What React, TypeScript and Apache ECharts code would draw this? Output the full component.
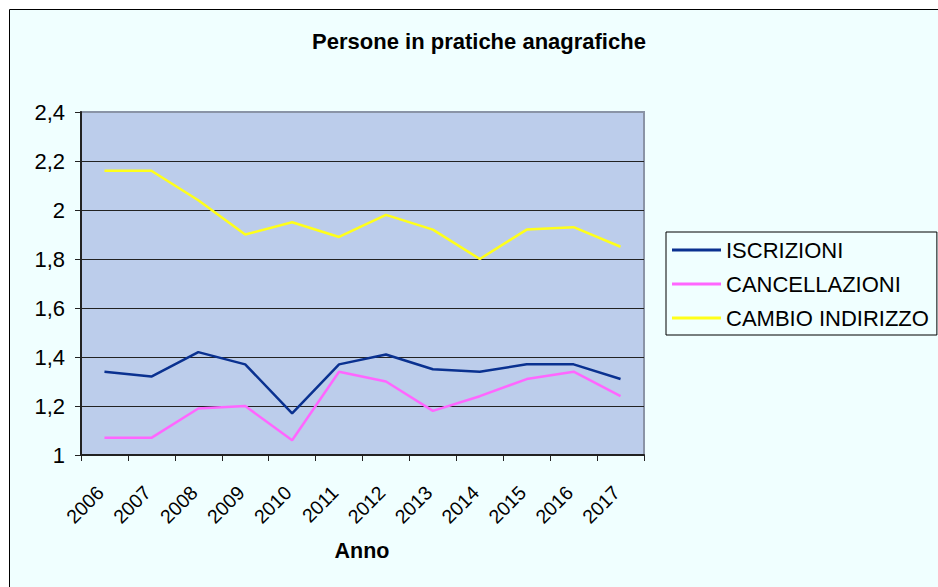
import React, { useEffect, useRef } from 'react';
import * as echarts from 'echarts';

const years = ['2006', '2007', '2008', '2009', '2010', '2011', '2012', '2013', '2014', '2015', '2016', '2017'];
const iscrizioni = [1.34, 1.32, 1.42, 1.37, 1.17, 1.37, 1.41, 1.35, 1.34, 1.37, 1.37, 1.31];
const cancellazioni = [1.07, 1.07, 1.19, 1.2, 1.06, 1.34, 1.3, 1.18, 1.24, 1.31, 1.34, 1.24];
const cambioIndirizzo = [2.16, 2.16, 2.04, 1.9, 1.95, 1.89, 1.98, 1.92, 1.8, 1.92, 1.93, 1.85];
const seriesNames = ['ISCRIZIONI', 'CANCELLAZIONI', 'CAMBIO INDIRIZZO'];
const seriesColors = ['#0A3190', '#FF66FF', '#FFFF1A'];
const yMin = 1;
const yMax = 2.4;
const yStep = 0.2;

const FONT = '"Liberation Sans", Arial, Helvetica, sans-serif';

export default function App() {
  const ref = useRef<HTMLDivElement>(null);
  useEffect(() => {
    document.body.style.margin = '0';
    document.body.style.overflow = 'hidden';
    const chart = echarts.init(ref.current!, null, { renderer: 'svg' });
    const values = [iscrizioni, cancellazioni, cambioIndirizzo];
    chart.setOption({
      animation: false,
      backgroundColor: '#FFFFFF',
      textStyle: { fontFamily: FONT },
      graphic: [
        {
          type: 'rect',
          z: -100,
          silent: true,
          shape: { x: 9.5, y: 9.5, width: 1000, height: 1000 },
          style: { fill: '#F0FFFF', stroke: '#000000', lineWidth: 1 },
        },
      ],
      title: [
        {
          text: 'Persone in pratiche anagrafiche',
          left: 479,
          top: 30,
          textAlign: 'center',
          padding: 0,
          textStyle: { fontFamily: FONT, fontSize: 22, fontWeight: 'bold', color: '#000' },
        },
        {
          text: 'Anno',
          left: 362,
          top: 540,
          textAlign: 'center',
          padding: 0,
          textStyle: { fontFamily: FONT, fontSize: 21.5, fontWeight: 'bold', color: '#000' },
        },
      ],
      legend: {
        orient: 'vertical',
        left: 666,
        top: 232,
        padding: [7, 8, 6, 6],
        borderColor: '#000',
        borderWidth: 1,
        itemWidth: 49,
        itemHeight: 3,
        itemGap: 12,
        icon: 'rect',
        textStyle: { fontFamily: FONT, fontSize: 22, color: '#000' },
        data: seriesNames,
      },
      grid: {
        left: 81,
        top: 112,
        right: 294,
        bottom: 132,
        show: true,
        backgroundColor: '#BCCDEB',
        borderColor: '#8A94A6',
        borderWidth: 2,
      },
      xAxis: {
        type: 'category',
        data: years,
        boundaryGap: true,
        axisLine: { show: true, lineStyle: { color: '#222', width: 2 } },
        axisTick: { show: true, length: 6, lineStyle: { color: '#222', width: 1 } },
        axisLabel: {
          interval: 0,
          rotate: 45,
          fontSize: 19.5,
          color: '#000',
          margin: 30,
          padding: [0, 6, 0, 0],
          fontFamily: FONT,
        },
        splitLine: { show: false },
      },
      yAxis: {
        type: 'value',
        min: yMin,
        max: yMax,
        interval: yStep,
        axisLine: { show: true, lineStyle: { color: '#222', width: 2 } },
        axisTick: { show: true, length: 6, lineStyle: { color: '#222', width: 1 } },
        axisLabel: {
          fontSize: 22,
          color: '#000',
          margin: 16,
          fontFamily: FONT,
          formatter: (v: number) => String(Number(v.toFixed(1))).replace('.', ','),
        },
        splitLine: { show: true, showMaxLine: false, lineStyle: { color: '#222', width: 1 } },
      },
      series: seriesNames.map((name, i) => ({
        name,
        type: 'line',
        data: values[i],
        symbol: 'none',
        color: seriesColors[i],
        lineStyle: { color: seriesColors[i], width: 2.5 },
      })),
    });
    return () => chart.dispose();
  }, []);
  return <div ref={ref} style={{ width: 938, height: 587 }} />;
}
